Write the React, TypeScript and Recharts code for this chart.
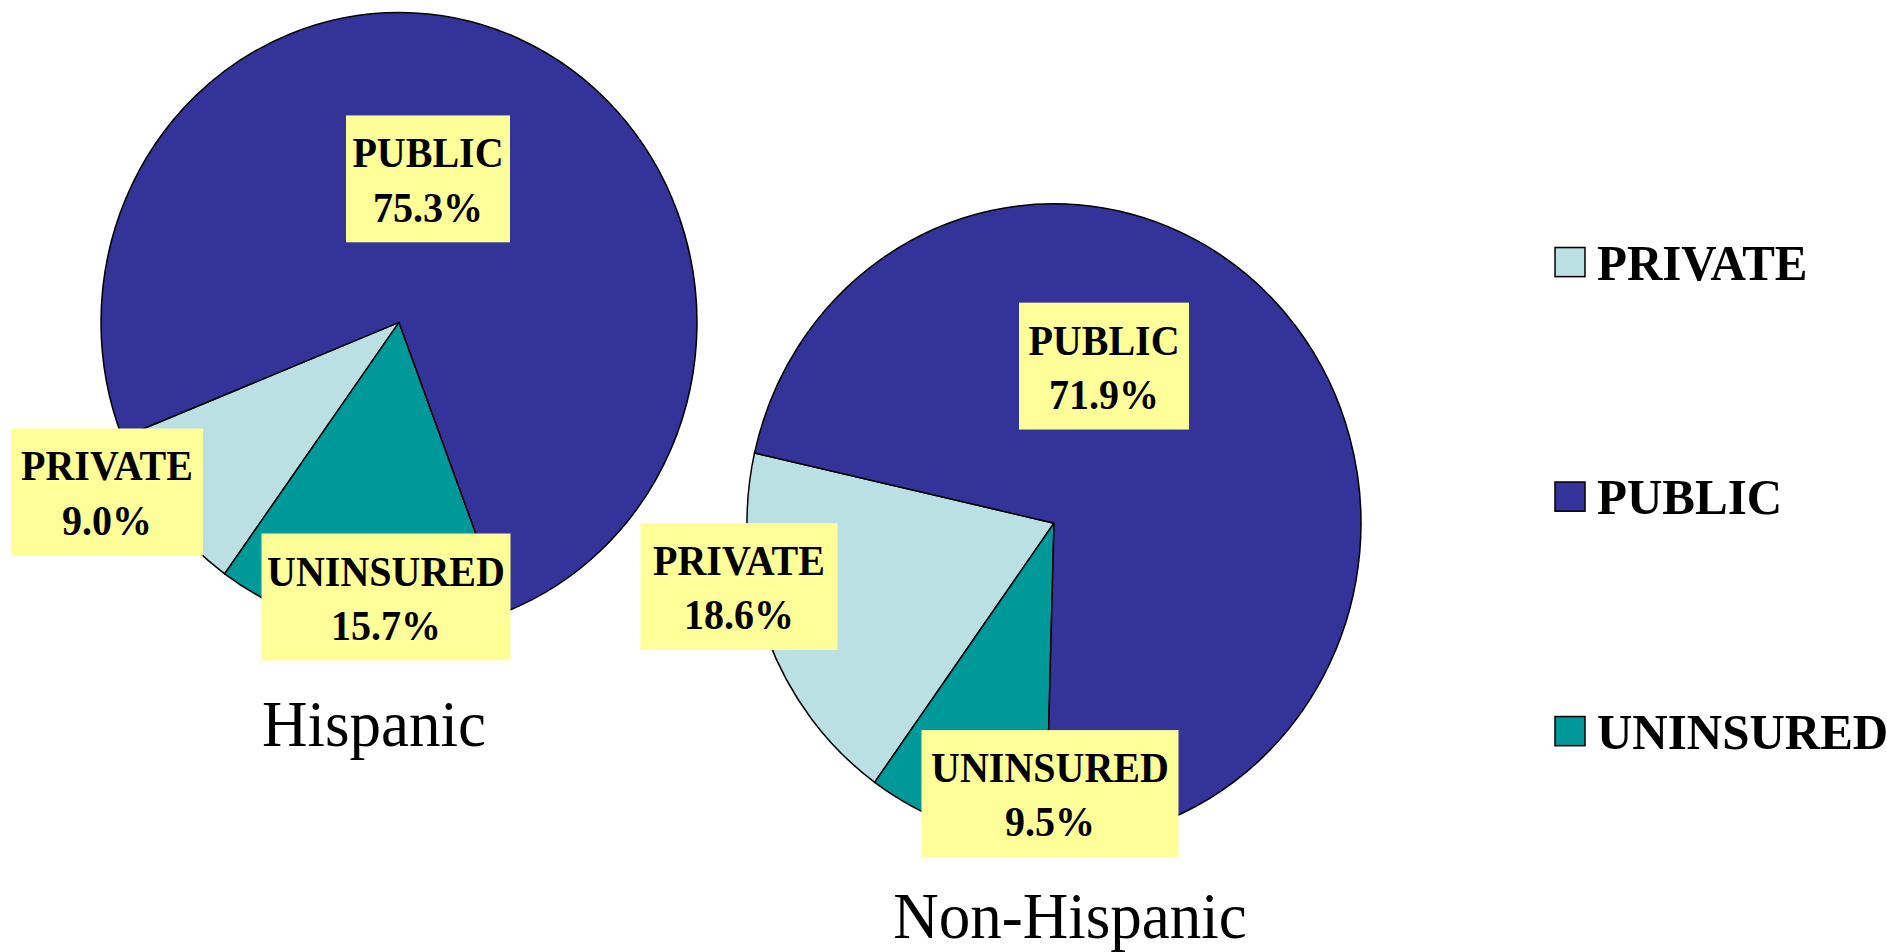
import React from "react";
import { PieChart, Pie, Cell, Customized } from "recharts";

// slice order follows the drawing direction (counter-clockwise from the start angle)
const sliceNames = ["PRIVATE", "UNINSURED", "PUBLIC"];
const hispanicShares = [9.0, 15.7, 75.3];
const nonHispanicShares = [18.6, 9.5, 71.9];
const legendNames = ["PRIVATE", "PUBLIC", "UNINSURED"];
const groupTitles = ["Hispanic", "Non-Hispanic"];

const COLORS: Record<string, string> = {
  PRIVATE: "#BBE0E3",
  PUBLIC: "#333399",
  UNINSURED: "#009999",
};

const FONT = "'Liberation Serif', 'Times New Roman', serif";
const STRETCH = 1.04; // the picture is slightly taller than wide

// label box placement relative to each pie's centre (same order as sliceNames)
const hispanicSpots = [
  { dx: -292, dy: 163, w: 192 },
  { dx: -13, dy: 264, w: 249 },
  { dx: 29, dy: -138, w: 164 },
];
const nonHispanicSpots = [
  { dx: -315, dy: 61, w: 197 },
  { dx: -4, dy: 260, w: 257 },
  { dx: 50, dy: -151, w: 170 },
];

const hispanicData = sliceNames.map((name, i) => ({ name, value: hispanicShares[i] }));
const nonHispanicData = sliceNames.map((name, i) => ({ name, value: nonHispanicShares[i] }));

const makeLabel = (spots: { dx: number; dy: number; w: number }[]) => (props: any) => {
  const { cx, cy, index } = props;
  const name = props.name ?? props.payload?.name;
  const value = props.value ?? props.payload?.value;
  const spot = spots[index];
  const x = cx + spot.dx;
  const y = cy + spot.dy;
  return (
    <g>
      <rect x={x - spot.w / 2} y={y - 61} width={spot.w} height={122} fill="#FFFF99" />
      <text x={x} y={y - 11} textAnchor="middle" fontFamily={FONT} fontWeight="bold" fontSize={40} fill="#000">
        {name}
      </text>
      <text x={x} y={y + 41} textAnchor="middle" fontFamily={FONT} fontWeight="bold" fontSize={40} fill="#000">
        {Number(value).toFixed(1)}%
      </text>
    </g>
  );
};

const Decorations = () => (
  <g>
    <text x={374} y={717} textAnchor="middle" fontFamily={FONT} fontSize={63} fill="#000">
      {groupTitles[0]}
    </text>
    <text x={1070} y={902} textAnchor="middle" fontFamily={FONT} fontSize={63} fill="#000">
      {groupTitles[1]}
    </text>
    {legendNames.map((name, i) => {
      const base = 269 + i * 225.5;
      return (
        <g key={name}>
          <rect x={1555} y={base - 31} width={30} height={28} fill={COLORS[name]} stroke="#000" strokeWidth={1.5} />
          <text x={1597} y={base} fontFamily={FONT} fontWeight="bold" fontSize={49} fill="#000">
            {name}
          </text>
        </g>
      );
    })}
  </g>
);

export default function App() {
  return (
    <div
      style={{
        position: "absolute",
        left: 0,
        top: 0,
        width: 1887,
        height: 952,
        background: "#fff",
        overflow: "hidden",
      }}
    >
      <div style={{ transform: `scaleY(${STRETCH})`, transformOrigin: "0 0" }}>
        <PieChart width={1887} height={916} margin={{ top: 0, right: 0, bottom: 0, left: 0 }}>
          <Pie
            data={hispanicData}
            dataKey="value"
            nameKey="name"
            cx={399}
            cy={310}
            outerRadius={298}
            startAngle={201.8}
            endAngle={561.8}
            stroke="#000"
            strokeWidth={1.5}
            label={makeLabel(hispanicSpots)}
            labelLine={false}
            isAnimationActive={false}
          >
            {hispanicData.map((d) => (
              <Cell key={d.name} fill={COLORS[d.name]} />
            ))}
          </Pie>
          <Pie
            data={nonHispanicData}
            dataKey="value"
            nameKey="name"
            cx={1054}
            cy={503}
            outerRadius={307}
            startAngle={167.3}
            endAngle={527.3}
            stroke="#000"
            strokeWidth={1.5}
            label={makeLabel(nonHispanicSpots)}
            labelLine={false}
            isAnimationActive={false}
          >
            {nonHispanicData.map((d) => (
              <Cell key={d.name} fill={COLORS[d.name]} />
            ))}
          </Pie>
          <Customized component={Decorations} />
        </PieChart>
      </div>
    </div>
  );
}
